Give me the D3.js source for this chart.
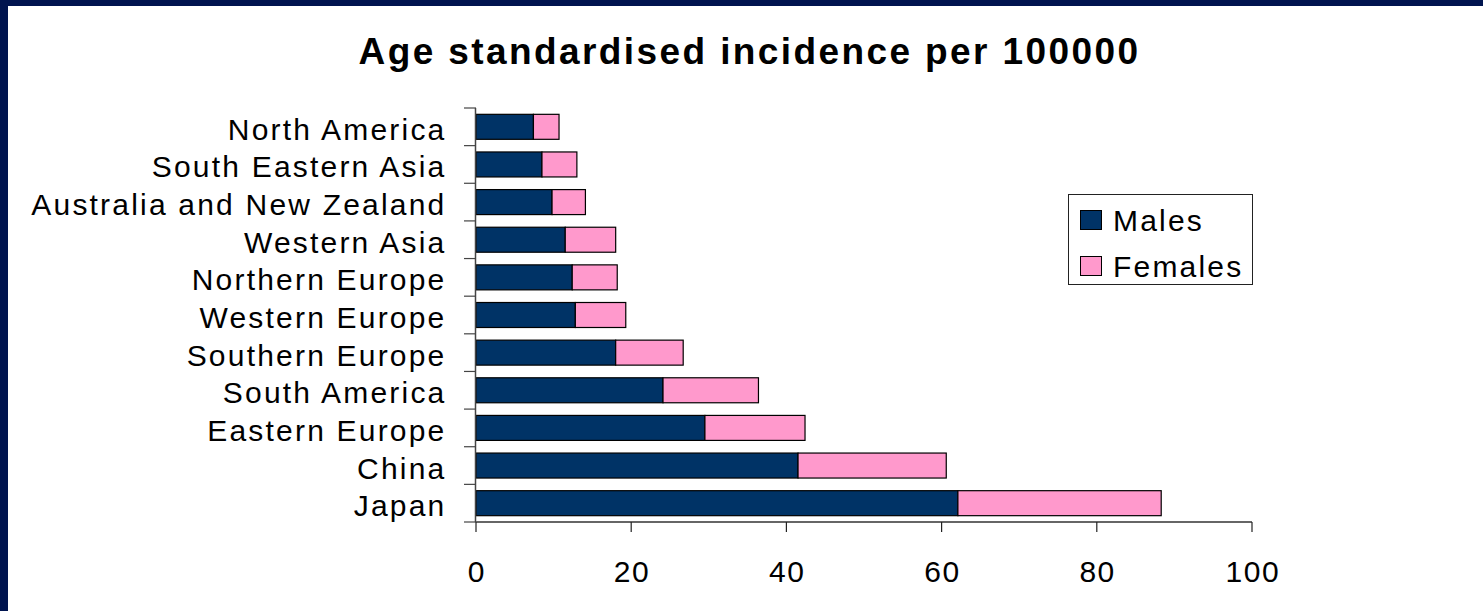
<!DOCTYPE html>
<html>
<head>
<meta charset="utf-8">
<script src="https://cdn.jsdelivr.net/npm/d3@7"></script>
<style>
  html, body { margin: 0; padding: 0; background: #ffffff; }
  svg { display: block; }
  text { font-family: "Liberation Sans", Arial, sans-serif; fill: #000; }
</style>
</head>
<body>
<svg id="chart" width="1483" height="611"></svg>
<script>
// ---- Data ----
const categories = ["North America", "South Eastern Asia", "Australia and New Zealand", "Western Asia",
  "Northern Europe", "Western Europe", "Southern Europe", "South America", "Eastern Europe", "China", "Japan"];
const males   = [7.4, 8.5, 9.8, 11.5, 12.4, 12.8, 18.0, 24.1, 29.5, 41.5, 62.1];
const females = [3.3, 4.5, 4.3, 6.5, 5.8, 6.5, 8.7, 12.3, 12.9, 19.1, 26.2];
const seriesNames = ["Males", "Females"];
const xTicks = [0, 20, 40, 60, 80, 100];
const titleText = "Age standardised incidence per 100000";

const colors = { Males: "#003366", Females: "#FF99CC" };

const svg = d3.select("#chart");
const W = 1483, H = 611;

// frame: navy band top and left
svg.append("rect").attr("x", 0).attr("y", 0).attr("width", W).attr("height", H).attr("fill", "#00144F");
svg.append("rect").attr("x", 8).attr("y", 6).attr("width", W - 8).attr("height", H - 6).attr("fill", "#ffffff");

const x = d3.scaleLinear().domain([0, 100]).range([476, 1252]);
const y = d3.scaleBand().domain(categories).range([108, 522]).paddingInner(0.336).paddingOuter(0.168);

const rows = categories.map((c, i) => ({ cat: c, Males: males[i], Females: females[i] }));
const stack = d3.stack().keys(seriesNames)(rows);

// bars
const g = svg.append("g");
stack.forEach(layer => {
  g.selectAll(null).data(layer).enter().append("rect")
    .attr("x", d => x(d[0]))
    .attr("y", d => y(d.data.cat))
    .attr("width", d => x(d[1]) - x(d[0]))
    .attr("height", y.bandwidth())
    .attr("fill", colors[layer.key])
    .attr("stroke", "#000")
    .attr("stroke-width", 1.2);
});

// y axis line and ticks at band boundaries
const step = y.step();
const off = step * y.paddingInner() / 2;
const boundaries = categories.map(c => y(c) - off).concat([y(categories[categories.length - 1]) - off + step]);
svg.append("line").attr("x1", x(0) - 0.5).attr("x2", x(0) - 0.5)
  .attr("y1", boundaries[0]).attr("y2", boundaries[boundaries.length - 1])
  .attr("stroke", "#444").attr("stroke-width", 1.5);
svg.selectAll(null).data(boundaries).enter().append("line")
  .attr("x1", x(0) - 12).attr("x2", x(0))
  .attr("y1", d => d).attr("y2", d => d)
  .attr("stroke", "#444").attr("stroke-width", 1.2);

// category labels
svg.selectAll(null).data(categories).enter().append("text")
  .attr("x", 446.5)
  .attr("y", d => y(d) + y.bandwidth() / 2 + 13)
  .attr("text-anchor", "end")
  .attr("font-size", 30)
  .attr("letter-spacing", 2.2)
  .text(d => d);

// x axis
const xAxisY = boundaries[boundaries.length - 1];
svg.append("line").attr("x1", x(0)).attr("x2", x(100))
  .attr("y1", xAxisY).attr("y2", xAxisY)
  .attr("stroke", "#666").attr("stroke-width", 2);
svg.selectAll(null).data(xTicks).enter().append("line")
  .attr("x1", d => x(d)).attr("x2", d => x(d))
  .attr("y1", xAxisY).attr("y2", xAxisY + 10)
  .attr("stroke", "#222").attr("stroke-width", 1.2);
svg.selectAll(null).data(xTicks).enter().append("text")
  .attr("x", d => x(d) + 0.8)
  .attr("y", 582)
  .attr("text-anchor", "middle")
  .attr("font-size", 30)
  .attr("letter-spacing", 1.5)
  .text(d => d);

// title
svg.append("text")
  .attr("x", 749.5).attr("y", 64)
  .attr("text-anchor", "middle")
  .attr("font-size", 37)
  .attr("font-weight", "bold")
  .attr("letter-spacing", 2.4)
  .text(titleText);

// legend
const lg = svg.append("g");
lg.append("rect").attr("x", 1068.5).attr("y", 194.5).attr("width", 184).attr("height", 90)
  .attr("fill", "#fff").attr("stroke", "#222").attr("stroke-width", 1);
seriesNames.forEach((s, i) => {
  const yy = 210 + i * 46;
  lg.append("rect").attr("x", 1080.5).attr("y", yy + 0.5).attr("width", 21).attr("height", 19)
    .attr("fill", colors[s]).attr("stroke", "#000").attr("stroke-width", 1);
  lg.append("text").attr("x", 1113).attr("y", yy + 20.5)
    .attr("font-size", 30).attr("letter-spacing", 2.2).text(s);
});
</script>
</body>
</html>
